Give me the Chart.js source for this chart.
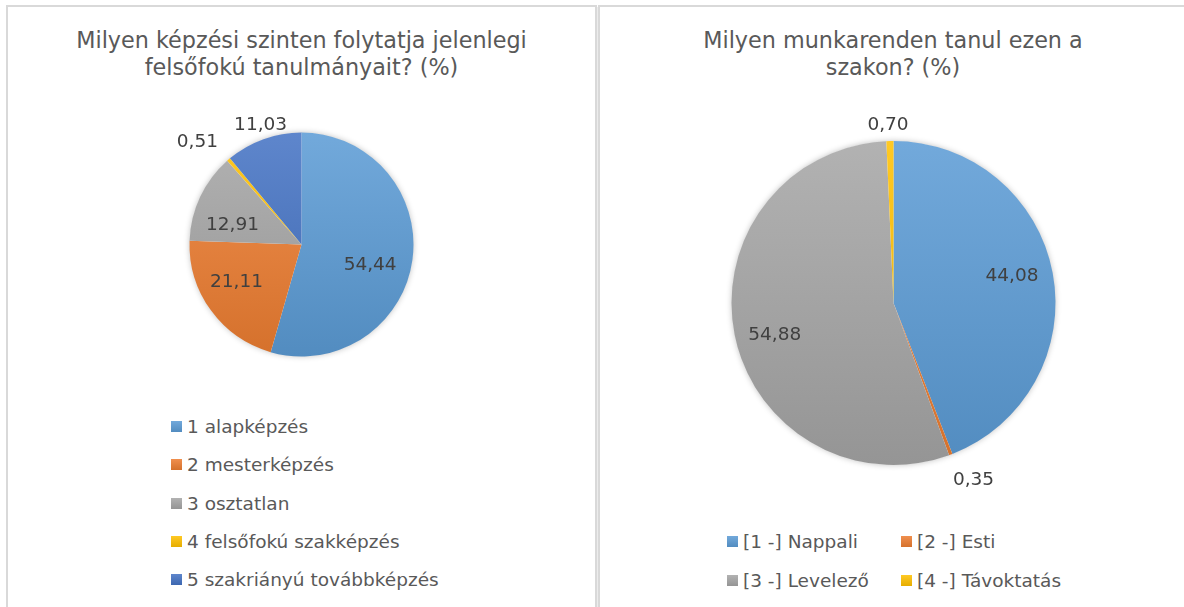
<!DOCTYPE html>
<html>
<head>
<meta charset="utf-8">
<script src="https://cdn.jsdelivr.net/npm/chart.js@4.4.1/dist/chart.umd.min.js"></script>
<style>
    body {
        margin: 0;
        width: 1184px;
        height: 607px;
        overflow: hidden;
        position: relative;
        background: #fff;
        font-family: "DejaVu Sans", Verdana, sans-serif;
    }
    .panel {
        position: absolute;
        top: 5px;
        height: 620px;
        border-top: 2px solid #d9d9d9;
        box-sizing: border-box;
    }
    #panel-left { left: 6px; width: 591px; border-left: 2px solid #d9d9d9; border-right: 2px solid #d9d9d9; }
    #panel-right { left: 598px; width: 600px; border-left: 2px solid #d9d9d9; }
    .gap { position: absolute; left: 597px; top: 7px; width: 1px; height: 600px; background: #ececec; }
    .title {
        position: absolute;
        top: 27px;
        text-align: center;
        font-size: 22.3px;
        line-height: 27px;
        color: #595959;
    }
    canvas { position: absolute; }
    .legend { position: absolute; font-size: 18.5px; color: #595959; }
    .legend .item { position: absolute; display: flex; align-items: center; white-space: nowrap; height: 24px; }
    .legend .box { width: 11px; height: 11px; margin-right: 5px; }
</style>
</head>
<body>
<div class="panel" id="panel-left"></div>
<div class="gap"></div>
<div class="panel" id="panel-right"></div>

<div class="title" style="left:6px; width:591px;">Milyen képzési szinten folytatja jelenlegi<br>felsőfokú tanulmányait? (%)</div>
<div class="title" style="left:600px; width:586px;">Milyen munkarenden tanul ezen a<br>szakon? (%)</div>

<div id="wrap-left"><canvas id="chart1"></canvas></div>
<div id="wrap-right"><canvas id="chart2"></canvas></div>

<div class="legend" id="legend1"></div>
<div class="legend" id="legend2"></div>

<script>
// Chart 1 - képzési szint
const levelLabels = ['1 alapképzés', '2 mesterképzés', '3 osztatlan', '4 felsőfokú szakképzés', '5 szakriányú továbbképzés'];
const levelValues = [54.44, 21.11, 12.91, 0.51, 11.03];

// Chart 2 - munkarend
const scheduleLabels = ['[1 -] Nappali', '[2 -] Esti', '[3 -] Levelező', '[4 -] Távoktatás'];
const scheduleValues = [44.08, 0.35, 54.88, 0.70];

const officeColors = ['#5B9BD5', '#ED7D31', '#A5A5A5', '#FFC000', '#4472C4'];

// mix a hex colour with white (amt > 0) or black (amt < 0)
function shade(hex, amt) {
    const n = parseInt(hex.slice(1), 16);
    let r = n >> 16, g = (n >> 8) & 255, b = n & 255;
    const t = amt > 0 ? 255 : 0, p = Math.abs(amt);
    r = Math.round(r + (t - r) * p);
    g = Math.round(g + (t - g) * p);
    b = Math.round(b + (t - b) * p);
    return `rgb(${r},${g},${b})`;
}

// vertical gradient over the whole pie, lighter at the top like Excel
function gradientFill(context) {
    const chart = context.chart;
    const base = officeColors[context.dataIndex % officeColors.length];
    const area = chart.chartArea;
    if (!area) return base;
    const cy = (area.top + area.bottom) / 2;
    const r = Math.min(area.right - area.left, area.bottom - area.top) / 2;
    const g = chart.ctx.createLinearGradient(0, cy - r, 0, cy + r);
    g.addColorStop(0, shade(base, 0.14));
    g.addColorStop(1, shade(base, -0.1));
    return g;
}

// soft shadow under the pie
const pieShadow = {
    id: 'pieShadow',
    beforeDatasetsDraw(chart) {
        const arc = chart.getDatasetMeta(0).data[0];
        if (!arc) return;
        const { x, y, outerRadius } = arc.getProps(['x', 'y', 'outerRadius'], true);
        const ctx = chart.ctx;
        ctx.save();
        ctx.shadowColor = 'rgba(0,0,0,0.28)';
        ctx.shadowBlur = 6;
        ctx.beginPath();
        ctx.arc(x, y, outerRadius - 0.5, 0, Math.PI * 2);
        ctx.fillStyle = '#ffffff';
        ctx.fill();
        ctx.restore();
    }
};

// value labels, comma as decimal separator
const valueLabels = {
    id: 'valueLabels',
    afterDatasetsDraw(chart, args, opts) {
        const ctx = chart.ctx;
        const values = chart.data.datasets[0].data;
        ctx.save();
        ctx.font = '18.5px "DejaVu Sans", Verdana, sans-serif';
        ctx.fillStyle = '#404040';
        ctx.textAlign = 'center';
        ctx.textBaseline = 'middle';
        chart.getDatasetMeta(0).data.forEach((arc, i) => {
            const { x, y, startAngle, endAngle, outerRadius } =
                arc.getProps(['x', 'y', 'startAngle', 'endAngle', 'outerRadius'], true);
            const mid = (startAngle + endAngle) / 2 + (opts.nudge[i] || 0) * Math.PI / 180;
            const d = outerRadius * opts.dist[i];
            ctx.fillText(values[i].toFixed(2).replace('.', ','), x + Math.cos(mid) * d, y + Math.sin(mid) * d);
        });
        ctx.restore();
    }
};

function buildLegend(el, chart, positions) {
    chart.data.labels.forEach((label, i) => {
        const item = document.createElement('div');
        item.className = 'item';
        item.style.left = positions[i][0] + 'px';
        item.style.top = (positions[i][1] - 12) + 'px';
        const box = document.createElement('span');
        box.className = 'box';
        const base = officeColors[i];
        box.style.background = `linear-gradient(${shade(base, 0.14)}, ${shade(base, -0.1)})`;
        item.appendChild(box);
        item.appendChild(document.createTextNode(label));
        el.appendChild(item);
    });
}

function makePie(canvasId, box, labels, values, padding, labelOpts) {
    const canvas = document.getElementById(canvasId);
    canvas.style.left = box[0] + 'px';
    canvas.style.top = box[1] + 'px';
    canvas.style.width = box[2] + 'px';
    canvas.style.height = box[3] + 'px';
    canvas.width = box[2];
    canvas.height = box[3];
    return new Chart(canvas.getContext('2d'), {
        type: 'pie',
        data: {
            labels: labels,
            datasets: [{
                data: values,
                backgroundColor: gradientFill,
                borderWidth: 0
            }]
        },
        options: {
            responsive: false,
            animation: false,
            layout: { padding: padding },
            plugins: {
                legend: { display: false },
                title: { display: false },
                tooltip: { enabled: false },
                valueLabels: labelOpts
            }
        },
        plugins: [pieShadow, valueLabels]
    });
}

const chart1 = makePie('chart1', [6, 100, 589, 290], levelLabels, levelValues,
    { left: 2, right: 0, top: 32.5, bottom: 33.5 },
    { dist: [0.64, 0.67, 0.64, 1.30, 1.13], nudge: [8.7, 6, -9.6, -5, 1] });

const chart2 = makePie('chart2', [600, 110, 584, 390], scheduleLabels, scheduleValues,
    { left: 3, right: 0, top: 31, bottom: 35 },
    { dist: [0.75, 1.2, 0.76, 1.1], nudge: [-2, -3.6, -4, -0.5] });

buildLegend(document.getElementById('legend1'), chart1,
    [[171, 426], [171, 464.5], [171, 503], [171, 541], [171, 579.5]]);
buildLegend(document.getElementById('legend2'), chart2,
    [[727, 541], [901, 541], [727, 580], [901, 580]]);
</script>
</body>
</html>
